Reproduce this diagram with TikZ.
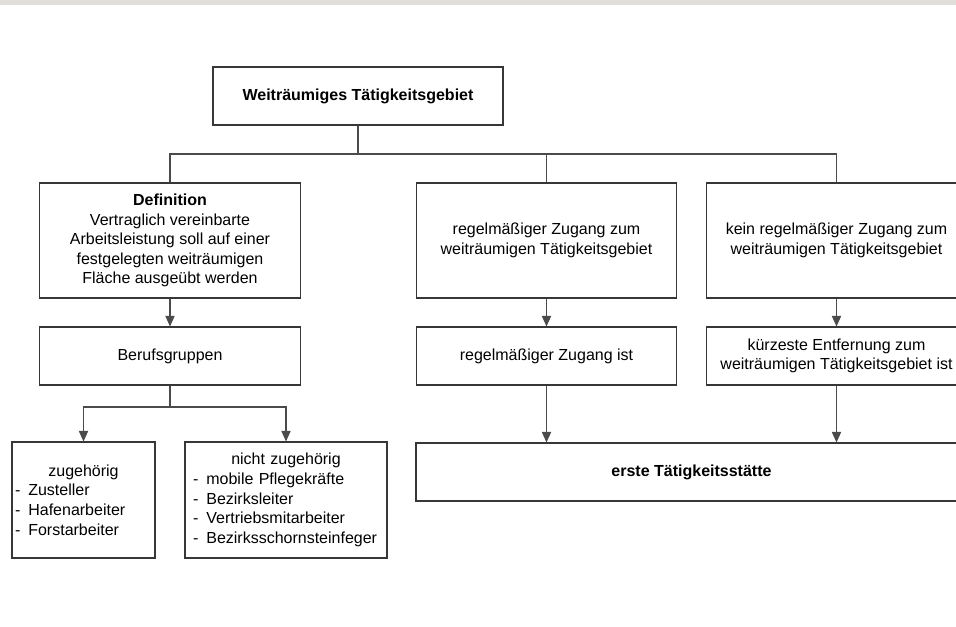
\documentclass[tikz,border=0pt]{standalone}
\usepackage{fontspec}
\setmainfont{Liberation Sans}
\usetikzlibrary{arrows.meta}
\definecolor{barfill}{RGB}{225,221,217}
\definecolor{edge}{RGB}{55,55,55}
\definecolor{wire}{RGB}{75,75,75}
\begin{document}
\begin{tikzpicture}[x=0.75pt,y=-0.75pt,
  box/.style={draw=edge, line width=0.8pt, fill=white, inner sep=2pt,
    align=center, font=\fontsize{12pt}{14.7pt}\selectfont},
  colbox/.style={box, minimum width=195.5pt},
  tall/.style={minimum height=86.25pt},
  flat/.style={minimum height=43.5pt},
  listbox/.style={box, align=left, minimum height=87pt},
  wire/.style={draw=wire, line width=0.8pt},
  arr/.style={wire, -{Triangle[width=7pt,length=8pt]}}]

\useasboundingbox (0,0) rectangle (956,627);
\clip (0,0) rectangle (956,627);
\fill[barfill] (0,0) rectangle (956,5);

% top of the tree
\node[box, minimum width=217.5pt, flat] (top) at (358,96) {\textbf{Weiträumiges Tätigkeitsgebiet}};

% three main branches
\node[colbox, tall] (def) at (170,240.5) {\textbf{Definition}\\Vertraglich vereinbarte\\Arbeitsleistung soll auf einer\\festgelegten weiträumigen\\Fläche ausgeübt werden};
\node[colbox, tall] (reg) at (546.5,240.5) {regelmäßiger Zugang zum\\weiträumigen Tätigkeitsgebiet};
\node[colbox, tall] (nreg) at (836.5,240.5) {kein regelmäßiger Zugang zum\\weiträumigen Tätigkeitsgebiet};

% second row
\node[colbox, flat] (beruf) at (170,356) {Berufsgruppen};
\node[colbox, flat] (regist) at (546.5,356) {regelmäßiger Zugang ist};
\node[colbox, flat] (kurz) at (836.5,356) {kürzeste Entfernung zum\\weiträumigen Tätigkeitsgebiet ist};

% occupational groups
\node[listbox, inner xsep=2.25pt, text width=102.75pt] (zug) at (83.5,500)
  {\makebox[\hsize]{zugehörig}\\
   \mbox{-\hspace{6pt}Zusteller}\\
   \mbox{-\hspace{6pt}Hafenarbeiter}\\
   \mbox{-\hspace{6pt}Forstarbeiter}};
\node[listbox, inner xsep=6pt, text width=139.5pt] (nzug) at (286,500)
  {\makebox[\hsize]{nicht zugehörig}\\
   \mbox{-\hspace{6pt}mobile Pflegekräfte}\\
   \mbox{-\hspace{6pt}Bezirksleiter}\\
   \mbox{-\hspace{6pt}Vertriebsmitarbeiter}\\
   \mbox{-\hspace{6pt}Bezirksschornsteinfeger}};

% result
\node[box, minimum width=413.25pt, flat] (erste) at (691.5,472) {\textbf{erste Tätigkeitsstätte}};

% bus below the top box
\coordinate (bus) at (358,154);
\coordinate (split) at (170,407);
\draw[wire] (top.south) -- (bus);
\draw[wire] (def.north) -- (def.north |- bus) -- (nreg.north |- bus) -- (nreg.north);
\draw[wire] (reg.north) -- (reg.north |- bus);

% arrows
\draw[arr] (def.south) -- (beruf.north);
\draw[arr] (reg.south) -- (regist.north);
\draw[arr] (nreg.south) -- (kurz.north);
\draw[arr] (regist.south) -- (regist.south |- erste.north);
\draw[arr] (kurz.south) -- (kurz.south |- erste.north);
\draw[wire] (beruf.south) -- (split);
\draw[arr] (split) -| (zug.north);
\draw[arr] (split) -| (nzug.north);
\end{tikzpicture}
\end{document}
